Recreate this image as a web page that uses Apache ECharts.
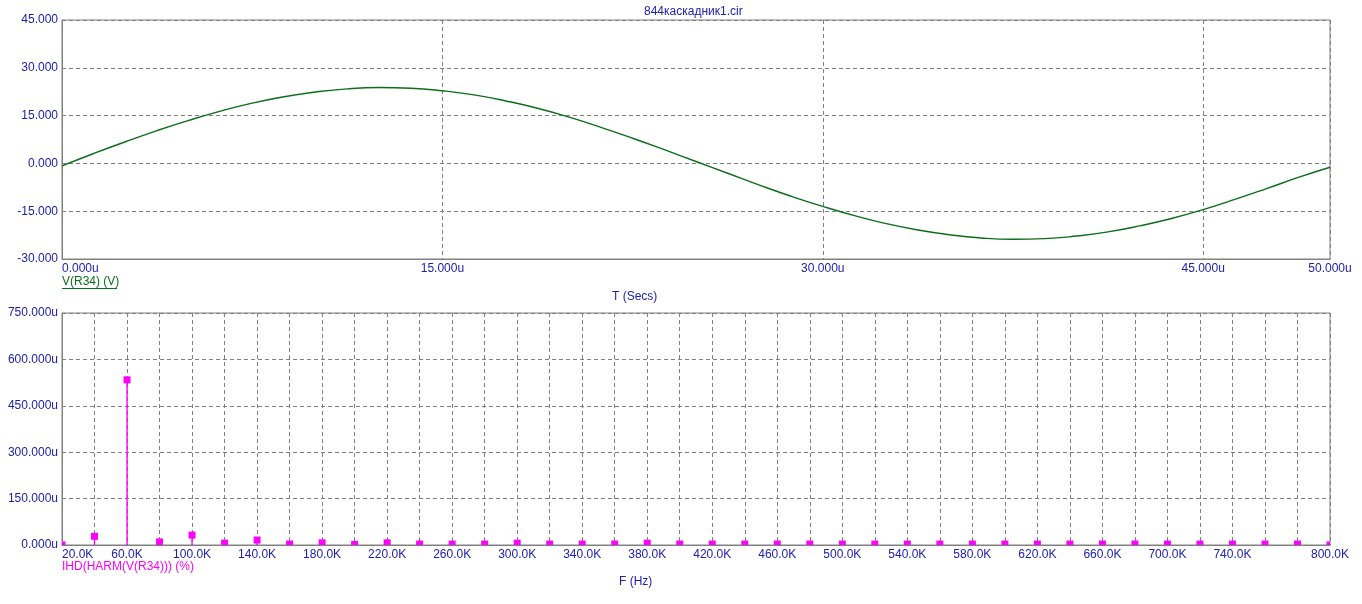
<!DOCTYPE html>
<html>
<head>
<meta charset="utf-8">
<script src="https://cdn.jsdelivr.net/npm/echarts@6/dist/echarts.min.js"></script>
<style>html,body{margin:0;padding:0;background:#fff;}#c{width:1362px;height:604px;}</style>
</head>
<body>
<div id="c"></div>
<script>
// Top plot: V(R34) vs time (microseconds)
const timeUs = [0, 1.25, 2.5, 3.75, 5, 6.25, 7.5, 8.75, 10, 11.25, 12.5, 13.75, 15, 16.25, 17.5, 18.75, 20,
  21.25, 22.5, 23.75, 25, 26.25, 27.5, 28.75, 30, 31.25, 32.5, 33.75, 35, 36.25, 37.5, 38.75, 40,
  41.25, 42.5, 43.75, 45, 46.25, 47.5, 48.75, 50];
const voltage = [-0.8, 3.1, 6.8, 10.3, 13.5, 16.4, 18.9, 20.9, 22.4, 23.4, 23.8, 23.6, 22.8, 21.5, 19.6, 17.3, 14.5,
  11.3, 7.9, 4.3, 0.6, -3.1, -6.8, -10.3, -13.5, -16.4, -18.9, -20.9, -22.4, -23.4, -23.8, -23.6, -22.8,
  -21.5, -19.6, -17.3, -14.5, -11.3, -7.9, -4.4, -1.2];

// Bottom plot: IHD harmonics (frequency Hz, value in micro-%)
const freqHz = [20000, 40000, 60000, 80000, 100000, 120000, 140000, 160000, 180000, 200000,
  220000, 240000, 260000, 280000, 300000, 320000, 340000, 360000, 380000, 400000,
  420000, 440000, 460000, 480000, 500000, 520000, 540000, 560000, 580000, 600000,
  620000, 640000, 660000, 680000, 700000, 720000, 740000, 760000, 780000, 800000];
const ihd = [0, 28, 534, 10, 32, 6, 16, 3, 7, 2,
  7, 3, 3, 3, 6, 3, 3, 3, 6, 3,
  3, 3, 3, 3, 3, 3, 3, 3, 3, 3,
  3, 3, 3, 3, 3, 3, 3, 3, 3, 0];

const topYTicks = { min: -30, max: 45, interval: 15 };
const topXTicks = { min: 0, max: 50, interval: 15 };
const botYTicks = { min: 0, max: 750, interval: 150 };
const botXTicks = { min: 20000, max: 800000, interval: 20000 };

const BLUE = '#2020b0';
const GRAY = '#808080';
const GREEN = '#0b6e1a';
const MAG = '#ff00ff';
const FONT = 'Liberation Sans, Arial, sans-serif';

const chart = echarts.init(document.getElementById('c'), null, { renderer: 'canvas' });

const splitDash = { show: true, lineStyle: { color: GRAY, type: [4, 3], width: 1 } };
const axLine = { show: true, onZero: false, lineStyle: { color: GRAY, width: 1 } };

function renderMarker(params, api) {
  const p1 = api.coord([api.value(0), api.value(1)]);
  const cs = params.coordSys;
  const half = 3.5;
  const rect = echarts.graphic.clipRectByRect(
    { x: p1[0] - half, y: p1[1] - half, width: half * 2, height: half * 2 },
    { x: cs.x, y: cs.y, width: cs.width, height: cs.height }
  );
  return rect ? { type: 'rect', shape: rect, style: { fill: MAG } } : null;
}

chart.setOption({
  animation: false,
  backgroundColor: '#fff',
  grid: [
    { left: 62, right: 32, top: 20, height: 239, show: true, borderColor: GRAY, borderWidth: 1, backgroundColor: '#fff' },
    { left: 62, right: 32, top: 313, height: 232, show: true, borderColor: GRAY, borderWidth: 1, backgroundColor: '#fff' }
  ],
  xAxis: [
    {
      gridIndex: 0, type: 'value', min: topXTicks.min, max: topXTicks.max, interval: topXTicks.interval,
      axisLine: axLine, axisTick: { show: false }, splitLine: splitDash,
      axisLabel: { color: BLUE, fontFamily: FONT, fontSize: 12, margin: 4, alignMinLabel: 'left',
        formatter: v => v.toFixed(3) + 'u' }
    },
    {
      gridIndex: 1, type: 'value', min: botXTicks.min, max: botXTicks.max, interval: botXTicks.interval,
      axisLine: axLine, axisTick: { show: false }, splitLine: splitDash,
      axisLabel: { color: BLUE, fontFamily: FONT, fontSize: 12, margin: 4, alignMinLabel: 'left',
        showMaxLabel: true,
        formatter: v => {
          const k = Math.round(v / 1000);
          if (k === 800 || ((k - 20) % 40 === 0 && k !== 780)) return k.toFixed(1) + 'K';
          return '';
        } }
    }
  ],
  yAxis: [
    {
      gridIndex: 0, type: 'value', min: topYTicks.min, max: topYTicks.max, interval: topYTicks.interval,
      axisLine: axLine, axisTick: { show: false }, splitLine: splitDash,
      axisLabel: { color: BLUE, fontFamily: FONT, fontSize: 12, margin: 4, formatter: v => v.toFixed(3) }
    },
    {
      gridIndex: 1, type: 'value', min: botYTicks.min, max: botYTicks.max, interval: botYTicks.interval,
      axisLine: axLine, axisTick: { show: false }, splitLine: splitDash,
      axisLabel: { color: BLUE, fontFamily: FONT, fontSize: 12, margin: 4, formatter: v => v.toFixed(3) + 'u' }
    }
  ],
  series: [
    {
      type: 'line', xAxisIndex: 0, yAxisIndex: 0, smooth: true, showSymbol: false,
      data: timeUs.map((t, i) => [t, voltage[i]]),
      lineStyle: { color: GREEN, width: 1.4 }
    },
    {
      type: 'bar', xAxisIndex: 1, yAxisIndex: 1, barWidth: 1.4, z: 5,
      data: freqHz.map((f, i) => [f, ihd[i]]),
      itemStyle: { color: MAG }
    },
    {
      type: 'custom', xAxisIndex: 1, yAxisIndex: 1, z: 10,
      itemStyle: { color: MAG },
      renderItem: renderMarker,
      data: freqHz.map((f, i) => [f, ihd[i]])
    }
  ],
  graphic: [
    { type: 'text', left: 644, top: 6, style: { text: '844каскадник1.cir', fill: BLUE, font: '12px ' + FONT } },
    { type: 'text', left: 62, top: 276, style: { text: 'V(R34) (V)', fill: GREEN, font: '12px ' + FONT } },
    { type: 'line', shape: { x1: 62, y1: 288.5, x2: 117, y2: 288.5 }, style: { stroke: GREEN, lineWidth: 1 } },
    { type: 'text', left: 612, top: 291, style: { text: 'T (Secs)', fill: BLUE, font: '12px ' + FONT } },
    { type: 'text', left: 62, top: 561, style: { text: 'IHD(HARM(V(R34))) (%)', fill: MAG, font: '12px ' + FONT } },
    { type: 'text', left: 619, top: 576, style: { text: 'F (Hz)', fill: BLUE, font: '12px ' + FONT } }
  ]
});
</script>
</body>
</html>
